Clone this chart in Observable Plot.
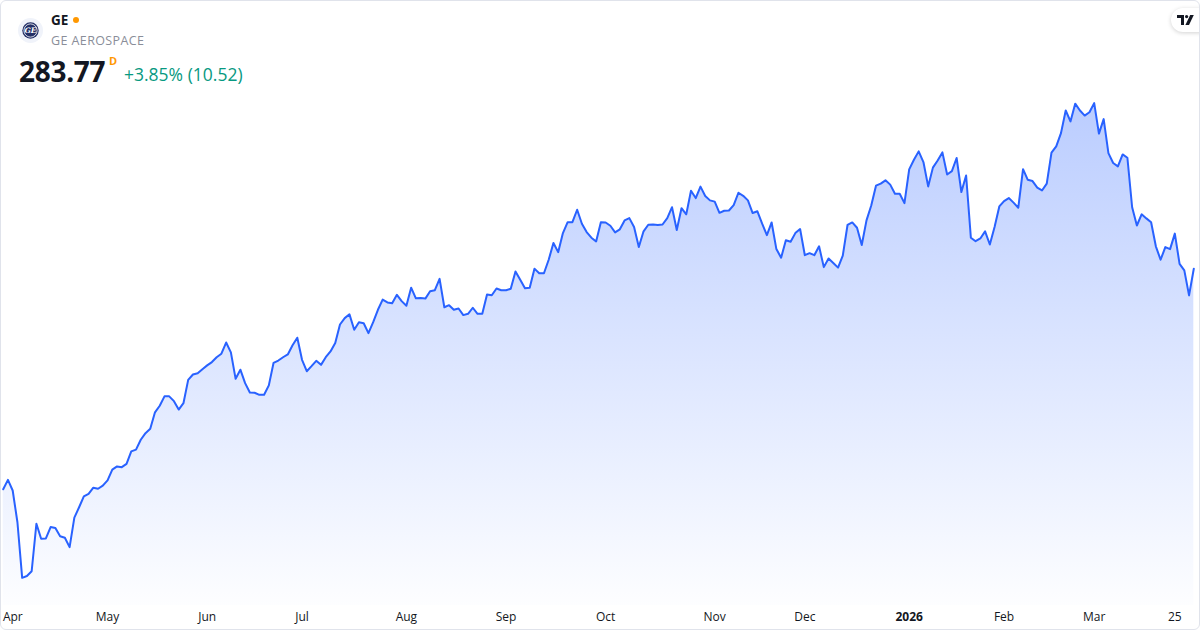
<!DOCTYPE html>
<html>
<head>
<meta charset="utf-8">
<script src="https://cdn.jsdelivr.net/npm/d3@7"></script>
<script src="https://cdn.jsdelivr.net/npm/@observablehq/plot@0.6"></script>
<style>
  html, body { margin: 0; padding: 0; background: #fff; }
  body { width: 1200px; height: 630px; position: relative; overflow: hidden; font-family: "Open Sans", "Noto Sans", sans-serif; }
  #chart { position: absolute; left: 0; top: 0; }
  #frame { position: absolute; left: 0; top: 0; width: 1200px; height: 630px; box-sizing: border-box; border: 1px solid #e0e3eb; border-radius: 6px; pointer-events: none; }
  #header { position: absolute; left: 0; top: 0; }
  .sym { position: absolute; left: 51px; top: 11px; font-size: 13.5px; font-weight: 700; color: #131722; white-space: nowrap; }
  .dot { display: inline-block; width: 6px; height: 6px; border-radius: 50%; background: #ff9800; margin-left: 5px; vertical-align: 2px; }
  .name { position: absolute; left: 51px; top: 32px; font-size: 12.5px; color: #8a8e99; letter-spacing: 0.4px; white-space: nowrap; }
  .price { position: absolute; left: 19px; top: 52px; font-size: 28px; font-weight: 700; color: #131722; letter-spacing: -0.3px; white-space: nowrap; }
  .flag { position: absolute; left: 109px; top: 53px; font-size: 11px; font-weight: 700; color: #ff9800; }
  .chg { position: absolute; left: 124px; top: 62px; font-size: 17.5px; color: #089981; white-space: nowrap; }
  #tv { position: absolute; left: 1171px; top: 8px; width: 40px; height: 24px; border-radius: 12px; background: #fff; box-shadow: 0 1px 4px rgba(0,0,0,0.18); }
</style>
</head>
<body>
<div id="chart"></div>
<div id="header">
  <svg style="position:absolute;left:18px;top:18px" width="25" height="25" viewBox="0 0 25 25">
    <circle cx="12.5" cy="12.5" r="12.5" fill="#f0f3fa"/>
    <circle cx="12.5" cy="12.5" r="8.2" fill="#232f66"/>
    <circle cx="12.5" cy="12.5" r="6.6" fill="none" stroke="#fff" stroke-width="0.8"/>
    <text x="12.5" y="15.2" text-anchor="middle" font-size="7.5" font-style="italic" font-weight="700" fill="#fff" font-family="DejaVu Serif">GE</text>
  </svg>
  <div class="sym"><span id="sym"></span><span class="dot"></span></div>
  <div class="name" id="name"></div>
  <div class="price" id="price"></div>
  <div class="flag">D</div>
  <div class="chg" id="chg"></div>
</div>
<div id="tv">
  <svg style="position:absolute;left:6px;top:7px" width="18" height="10" viewBox="0 0 18 10">
    <path d="M0 0 H7 V10 H4 V3 H0 Z" fill="#131722"/>
    <circle cx="9.6" cy="1.6" r="1.6" fill="#131722"/>
    <path d="M13.2 0 H16.8 L12 10 H8.4 Z" fill="#131722"/>
  </svg>
</div>
<div id="frame"></div>
<script>
// ---- data ----
const symbol = "GE";
const companyName = "GE AEROSPACE";
const lastPrice = 283.77;
const changePct = 3.85;
const changeAbs = 10.52;

// daily closes (trading days, Mar 31 2025 → Mar 31 2026)
const closes = [
  196.9, 200.6, 196.4, 183.9, 162.0, 162.7, 164.6, 183.3, 177.4, 177.5,
  182.0, 181.6, 178.4, 177.8, 174.1, 185.7, 189.8, 194.1, 195.1, 197.5,
  197.1, 198.3, 200.4, 204.6, 205.9, 205.6, 206.9, 211.8, 212.5, 216.4,
  219.0, 220.7, 227.2, 229.8, 233.5, 233.5, 231.6, 228.3, 230.8, 240.0,
  242.1, 242.6, 244.2, 245.7, 247.0, 248.9, 250.3, 254.7, 250.8, 240.4,
  244.0, 238.7, 235.0, 234.9, 234.1, 234.1, 237.8, 246.7, 247.6, 248.9,
  250.0, 253.6, 256.6, 247.9, 243.4, 245.4, 247.5, 245.9, 248.9, 251.2,
  254.5, 261.8, 264.3, 265.8, 259.7, 262.7, 262.3, 258.4, 262.7, 267.6,
  271.6, 270.5, 270.2, 273.5, 271.0, 269.2, 276.3, 272.1, 272.2, 272.0,
  274.9, 275.3, 279.8, 268.6, 269.4, 267.6, 268.1, 265.5, 266.0, 268.4,
  266.0, 266.0, 273.6, 273.3, 276.0, 275.3, 275.3, 275.9, 282.7, 279.4,
  276.1, 276.3, 283.8, 282.0, 282.0, 287.3, 293.9, 290.3, 297.8, 302.1,
  302.1, 307.0, 301.5, 298.2, 296.0, 294.5, 302.1, 302.0, 300.7, 298.1,
  299.3, 302.8, 303.7, 300.2, 292.3, 298.5, 301.1, 301.2, 301.0, 301.2,
  303.7, 308.0, 299.0, 307.6, 305.2, 314.5, 311.6, 316.1, 312.4, 310.7,
  310.2, 305.8, 306.6, 306.7, 308.8, 313.7, 312.5, 310.7, 305.7, 306.4,
  301.5, 297.0, 302.0, 291.5, 288.1, 295.0, 294.4, 297.8, 299.4, 289.1,
  289.9, 289.1, 292.6, 284.4, 287.8, 286.0, 284.2, 288.9, 301.0, 302.0,
  299.9, 293.1, 302.8, 308.7, 316.5, 317.3, 318.6, 316.9, 313.3, 313.3,
  309.6, 322.9, 326.7, 330.0, 325.8, 316.2, 323.6, 326.4, 329.6, 320.9,
  322.2, 327.4, 314.0, 320.5, 296.0, 294.6, 295.7, 298.5, 293.3, 300.2,
  308.3, 310.4, 311.6, 309.8, 307.8, 323.0, 318.8, 318.3, 315.7, 314.6,
  317.3, 329.5, 332.0, 337.2, 346.1, 341.8, 348.8, 346.1, 344.1, 345.4,
  349.0, 337.0, 342.7, 329.3, 325.4, 324.1, 328.8, 327.5, 308.0, 300.8,
  305.2, 303.6, 302.1, 292.6, 287.3, 292.3, 291.5, 297.6, 285.7, 283.1,
  273.25, 283.77
];

// x-axis labels: trading-day index of each month start (and Mar 25)
const tickIdx    = [1, 22, 43, 63, 85, 106, 127, 150, 169, 191, 211, 230, 247];
const tickLabels = ["Apr", "May", "Jun", "Jul", "Aug", "Sep", "Oct", "Nov", "Dec", "2026", "Feb", "Mar", "25"];

// ---- header text ----
document.getElementById("sym").textContent = symbol;
document.getElementById("name").textContent = companyName;
document.getElementById("price").textContent = lastPrice.toFixed(2);
document.getElementById("chg").textContent = `+${changePct.toFixed(2)}% (${changeAbs.toFixed(2)})`;

// ---- chart ----
const data = closes.map((c, i) => ({i, c}));
const ticks = tickIdx.map((i, k) => ({i, label: tickLabels[k]}));
const yDomain = [151.1, 365.8];

const gradientDefs = () => {
  const ns = "http://www.w3.org/2000/svg";
  const defs = document.createElementNS(ns, "defs");
  defs.innerHTML = `<linearGradient id="tvgrad" gradientUnits="userSpaceOnUse" x1="0" y1="100" x2="0" y2="605">
      <stop offset="0" stop-color="#2962ff" stop-opacity="0.32"/>
      <stop offset="1" stop-color="#2962ff" stop-opacity="0.01"/>
    </linearGradient>`;
  return defs;
};

const textOpts = {x: "i", text: "label", frameAnchor: "bottom", dy: 15, fontSize: 12, fill: "#131722"};

const chart = Plot.plot({
  width: 1200,
  height: 630,
  marginLeft: 2.7,
  marginRight: 6.7,
  marginTop: 60,
  marginBottom: 25,
  style: {background: "transparent", fontFamily: "'Open Sans', 'Noto Sans', sans-serif", overflow: "visible"},
  x: {domain: [0, closes.length - 1], axis: null},
  y: {domain: yDomain, axis: null},
  marks: [
    gradientDefs,
    Plot.areaY(data, {x: "i", y1: yDomain[0], y2: "c", fill: "url(#tvgrad)"}),
    Plot.lineY(data, {x: "i", y: "c", stroke: "#2962ff", strokeWidth: 2, strokeLinejoin: "round"}),
    Plot.text(ticks.slice(0, 1), {...textOpts, textAnchor: "start", dx: -5}),
    Plot.text(ticks.slice(1).filter(d => !/^\d{4}$/.test(d.label)), textOpts),
    Plot.text(ticks.filter(d => /^\d{4}$/.test(d.label)), {...textOpts, fontWeight: "bold"})
  ]
});
document.getElementById("chart").appendChild(chart);
</script>
</body>
</html>
